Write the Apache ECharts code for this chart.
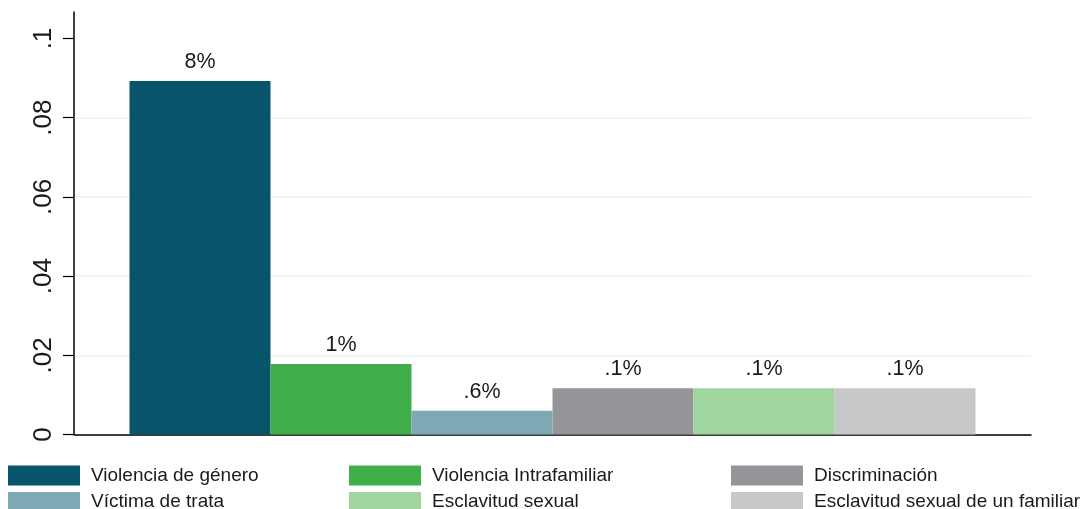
<!DOCTYPE html>
<html><head><meta charset="utf-8">
<script src="https://cdn.jsdelivr.net/npm/echarts@6/dist/echarts.min.js"></script>
<style>html,body{margin:0;padding:0;background:#fff}#c{width:1084px;height:509px}</style>
</head><body><div id="c"></div>
<script>
const seriesNames = ['Violencia de género','Violencia Intrafamiliar','Víctima de trata','Discriminación','Esclavitud sexual','Esclavitud sexual de un familiar'];
const seriesValues = [0.0893, 0.0178, 0.0060, 0.0117, 0.0117, 0.0117];
const barLabels = ['8%','1%','.6%','.1%','.1%','.1%'];
const seriesColors = ['#07546b','#40ae49','#7fa8b5','#939598','#a1d59f','#c7c8ca'];
const yTicks = [0, 0.02, 0.04, 0.06, 0.08, 0.1];
const yTickLabels = ['0','.02','.04','.06','.08','.1'];
const legendCols = [['Violencia de género','Víctima de trata'],['Violencia Intrafamiliar','Esclavitud sexual'],['Discriminación','Esclavitud sexual de un familiar']];

const FONT = '"Liberation Sans", Arial, Helvetica, sans-serif';
const chart = echarts.init(document.getElementById('c'), null, {renderer:'canvas'});
const series = seriesNames.map((n,i)=>({
  name:n, type:'bar', data:[seriesValues[i]], barWidth:141, barGap:'0%',
  itemStyle:{color:seriesColors[i]},
  label:{show:true, position:'top', distance:8, formatter:()=>barLabels[i], color:'#1a1a1a', fontSize:21.5, fontFamily:FONT}
}));
const legendLefts = [8, 349, 731];
const legends = legendCols.map((d,i)=>({
  data:d, orient:'vertical', left:legendLefts[i], top:465.5, height:80, itemWidth:72, itemHeight:20, itemGap:6.5,
  icon:'rect', selectedMode:false, padding:0,
  textStyle:{fontSize:19, fontFamily:FONT, color:'#1a1a1a', padding:[0,0,0,6], lineHeight:20}
}));
chart.setOption({
  animation:false,
  grid:{left:74, right:53, top:12, bottom:74.5, containLabel:false},
  legend:legends,
  xAxis:{type:'category', data:[''], axisLine:{lineStyle:{color:'#000', width:1.5}}, axisTick:{show:false}, axisLabel:{show:false}},
  yAxis:{type:'value', min:0, max:0.1067, interval:0.02,
    axisLine:{show:true, lineStyle:{color:'#000', width:1.5}},
    axisTick:{show:true, length:11, customValues:yTicks, lineStyle:{color:'#000', width:1.2}},
    axisLabel:{customValues:yTicks, rotate:90, margin:17, fontSize:26, fontFamily:FONT, color:'#1a1a1a',
      formatter:(v)=>{const k=yTicks.findIndex(t=>Math.abs(t-v)<1e-9); return k>=0?yTickLabels[k]:'';}},
    splitLine:{show:true, showMaxLine:false, lineStyle:{color:'#eaf2f3', width:1.5}}
  },
  series:series
});
</script></body></html>
